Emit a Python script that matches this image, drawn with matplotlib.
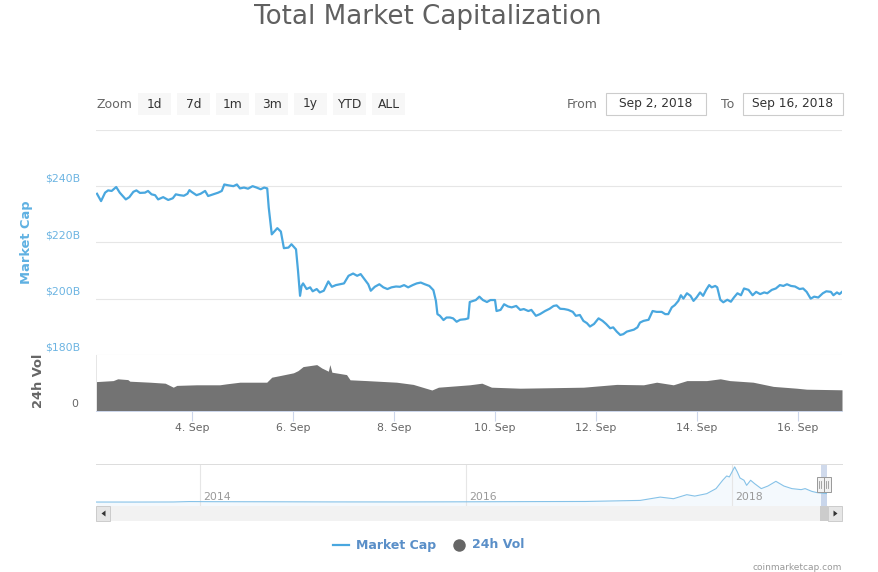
import matplotlib

matplotlib.use("Agg", force=True)

import matplotlib.pyplot as plt
from matplotlib.patches import Polygon, Rectangle

W, H = 879, 572  # output size in pixels (dpi 100)
PT = 0.72  # pixels -> points

PALETTE = {
    "cap": "#49a7df",
    "cap_label": "#6cb4e2",
    "vol": "#737373",
    "grid": "#e6e6e6",
    "axis": "#ccd6eb",
    "text": "#666666",
    "ink": "#333333",
    "button": "#f7f7f7",
    "legend": "#5a8fc8",
    "faint": "#999999",
    "mask": (102 / 255, 133 / 255, 194 / 255, 0.3),
}

# total market cap, $B, x = day of September 2018
cap_day = [
    2.12, 2.20, 2.28, 2.34, 2.41, 2.50, 2.57, 2.63, 2.69, 2.76, 2.84, 2.90, 2.97,
    3.07, 3.13, 3.20, 3.27, 3.33, 3.43, 3.53, 3.62, 3.68, 3.76, 3.84, 3.91, 3.95,
    3.99, 4.09, 4.17, 4.26, 4.32, 4.42, 4.52, 4.59, 4.64, 4.72, 4.82, 4.89, 4.95,
    5.03, 5.11, 5.20, 5.28, 5.36, 5.43, 5.49, 5.52, 5.58, 5.69, 5.76, 5.82, 5.91,
    5.97, 6.06, 6.10, 6.14, 6.17, 6.20, 6.27, 6.34, 6.39, 6.47, 6.53, 6.61, 6.70,
    6.77, 6.85, 6.93, 7.01, 7.10, 7.19, 7.27, 7.34, 7.43, 7.49, 7.54, 7.62, 7.71,
    7.79, 7.87, 7.95, 8.04, 8.12, 8.20, 8.28, 8.37, 8.45, 8.53, 8.61, 8.70, 8.78,
    8.83, 8.86, 8.91, 8.98, 9.04, 9.11, 9.17, 9.24, 9.31, 9.41, 9.47, 9.50, 9.57,
    9.62, 9.69, 9.76, 9.84, 9.91, 10.00, 10.03, 10.11, 10.18, 10.26, 10.33, 10.42,
    10.50, 10.57, 10.66, 10.72, 10.81, 10.89, 10.99, 11.08, 11.16, 11.22, 11.29,
    11.37, 11.45, 11.54, 11.60, 11.68, 11.75, 11.82, 11.88, 11.96, 12.05, 12.13,
    12.20, 12.28, 12.34, 12.41, 12.48, 12.54, 12.61, 12.67, 12.75, 12.82, 12.87,
    12.94, 13.04, 13.12, 13.20, 13.30, 13.37, 13.43, 13.50, 13.56, 13.63, 13.68,
    13.73, 13.80, 13.87, 13.93, 13.99, 14.06, 14.12, 14.18, 14.24, 14.29, 14.36,
    14.40, 14.46, 14.52, 14.60, 14.67, 14.73, 14.80, 14.87, 14.93, 15.02, 15.10,
    15.17, 15.25, 15.33, 15.39, 15.48, 15.56, 15.64, 15.71, 15.78, 15.86, 15.94,
    16.03, 16.10, 16.17, 16.25, 16.32, 16.40, 16.49, 16.56, 16.65, 16.70, 16.77,
    16.82, 16.87,
]
cap_value = [
    237.2, 234.6, 237.6, 238.4, 238.2, 239.6, 237.6, 236.4, 235.2, 236.0, 237.9, 238.4, 237.5,
    237.6, 238.2, 237.0, 236.7, 235.2, 236.0, 235.0, 235.6, 237.0, 236.7, 236.5, 237.2, 238.5,
    237.9, 236.7, 237.2, 238.2, 236.4, 237.0, 237.6, 238.2, 240.5, 240.2, 239.9, 240.5, 239.1,
    239.4, 239.0, 239.9, 239.4, 238.8, 239.4, 239.1, 232.3, 222.8, 225.0, 223.8, 217.9, 218.1,
    219.3, 217.5, 209.8, 201.0, 204.5, 205.4, 203.4, 204.0, 202.6, 203.4, 202.2, 202.8, 206.1,
    204.2, 204.8, 205.1, 205.4, 208.1, 208.9, 208.1, 208.7, 206.5, 205.1, 202.8, 204.2, 205.1,
    204.0, 203.4, 204.0, 204.3, 204.2, 204.8, 204.0, 204.8, 205.4, 205.7, 205.1, 204.5, 203.0,
    199.2, 194.5, 193.9, 192.4, 193.3, 193.3, 193.0, 191.8, 192.5, 192.7, 193.0, 198.8, 199.2,
    199.5, 200.7, 199.5, 198.8, 199.5, 199.5, 195.6, 196.0, 198.0, 197.2, 196.9, 197.4,
    196.0, 196.3, 195.6, 196.0, 193.9, 194.5, 195.6, 196.4, 197.4, 197.6, 196.4,
    196.3, 196.0, 195.3, 193.9, 194.2, 192.1, 191.3, 190.1, 191.0, 193.0, 192.1,
    191.0, 189.5, 189.8, 188.3, 187.1, 187.4, 188.3, 188.6, 189.0, 189.8, 191.5,
    192.1, 192.5, 195.6, 195.3, 195.3, 194.5, 194.5, 196.9, 197.7, 199.2, 201.2,
    200.0, 201.9, 201.0, 199.2, 200.4, 202.2, 201.0, 203.1, 204.8, 204.0, 204.5,
    204.0, 199.6, 198.7, 199.6, 198.9, 200.4, 201.9, 201.2, 203.6, 203.1, 201.2,
    202.4, 201.6, 202.2, 201.9, 203.1, 203.6, 204.8, 204.5, 205.1, 204.5, 204.3,
    203.4, 203.6, 202.4, 200.0, 200.7, 200.4, 201.9, 202.6, 202.4, 201.2, 202.2,
    201.6, 202.4,
]

# 24h volume, $B
vol_day = [
    2.11, 2.44, 2.53, 2.73, 2.77, 3.17, 3.47, 3.63, 3.70, 4.09, 4.55, 4.69, 4.95,
    5.48, 5.58, 5.74, 6.01, 6.10, 6.20, 6.47, 6.57, 6.70, 6.73, 6.77, 7.06, 7.13,
    7.46, 8.05, 8.38, 8.75, 8.88, 9.50, 9.74, 9.93, 10.50, 11.75, 12.41, 12.94,
    13.20, 13.53, 13.80, 14.19, 14.46, 14.65, 15.11, 15.51, 15.97, 16.17, 16.87,
]
vol_value = [
    14.7, 15.2, 16.1, 15.7, 14.9, 14.4, 13.9, 11.9, 12.8, 13.1, 13.1, 13.6, 14.4,
    14.4, 16.9, 17.7, 19.1, 20.2, 22.2, 23.2, 21.5, 19.9, 23.2, 19.4, 18.2, 15.6,
    15.2, 14.4, 13.3, 10.5, 11.9, 13.1, 13.9, 11.9, 11.4, 11.9, 13.3, 13.1,
    14.4, 13.1, 15.2, 15.2, 16.1, 15.2, 14.4, 12.3, 11.4, 10.9, 10.6,
]

# navigator: full history of total market cap, $B, x = year
nav_year = [
    2013.22, 2013.50, 2013.80, 2013.92, 2014.10, 2014.50, 2015.00, 2015.50, 2016.00,
    2016.50, 2016.90, 2017.31, 2017.46, 2017.56, 2017.66, 2017.72, 2017.81, 2017.88,
    2017.93, 2017.96, 2017.98, 2018.02, 2018.04, 2018.06, 2018.09, 2018.11, 2018.14,
    2018.17, 2018.22, 2018.27, 2018.33, 2018.39, 2018.45, 2018.52, 2018.55, 2018.60,
    2018.64, 2018.71,
]
nav_value = [
    1.5, 1.2, 3, 13, 10, 8, 4.5, 4, 7,
    12, 15, 40, 118, 80, 175, 142, 199, 318,
    515, 616, 593, 830, 711, 569, 515, 395, 515,
    435, 318, 379, 490, 379, 318, 294, 318, 253,
    223, 202,
]

day_ticks = [4, 6, 8, 10, 12, 14, 16]
day_tick_labels = [f"{d}. Sep" for d in day_ticks]
cap_ticks = [180, 200, 220, 240, 260]
cap_tick_labels = ["$180B", "$200B", "$220B", "$240B", ""]
year_ticks = [2014, 2016, 2018]
zoom_buttons = ["1d", "7d", "1m", "3m", "1y", "YTD", "ALL"]
range_from = "Sep 2, 2018"
range_to = "Sep 16, 2018"
day_range = (2.10, 16.87)
nav_range = (2013.218, 2018.827)


def add_px_axes(fig, left, top, right, bottom, **kwargs):
    """Axes placed by pixel box (origin top-left)."""
    return fig.add_axes(
        [left / W, 1 - bottom / H, (right - left) / W, (bottom - top) / H], **kwargs
    )


def sep_to_year(day):
    # Sep 1 2018 is day 244 of the year
    return 2018 + (243 + day) / 365.0


plt.rcParams.update({"font.family": ["DejaVu Sans"], "axes.linewidth": 0.72})
fig = plt.figure(figsize=(W / 100, H / 100), dpi=100, facecolor="white")

# ---- market cap pane
ax = add_px_axes(fig, 96, 129.5, 842, 355)
ax.plot(cap_day, cap_value, color=PALETTE["cap"], lw=1.6, solid_joinstyle="round", zorder=3)
ax.set_xlim(*day_range)
ax.set_ylim(180, 260)
ax.set_yticks(cap_ticks)
ax.set_xticks(day_ticks)
ax.grid(axis="y", color=PALETTE["grid"], lw=0.8, zorder=0)
ax.tick_params(length=0, labelleft=False, labelbottom=False)
for s in ax.spines.values():
    s.set_visible(False)
for v, lab in zip(cap_ticks, cap_tick_labels):
    ax.annotate(lab, xy=(0, v), xycoords=ax.get_yaxis_transform(), xytext=(-16 * PT, 1.5),
                textcoords="offset points", ha="right", va="bottom", fontsize=7.8,
                color=PALETTE["cap_label"])
fig.text(27 / W, 1 - 242 / H, "Market Cap", rotation=90, ha="center", va="center",
         fontsize=9.4, fontweight="bold", color="#5fb1e2")

# ---- volume pane
axv = add_px_axes(fig, 96, 355, 842, 411)
axv.fill_between(vol_day, vol_value, 0, color=PALETTE["vol"], lw=0, zorder=2)
axv.set_xlim(*day_range)
axv.set_ylim(0, 28)
axv.set_yticks([])
axv.set_xticks(day_ticks)
axv.set_xticklabels(day_tick_labels)
axv.tick_params(axis="x", length=10 * PT, width=0.8, color=PALETTE["axis"], pad=1.5,
                labelsize=7.8, labelcolor=PALETTE["text"])
for name in ("top", "right"):
    axv.spines[name].set_visible(False)
axv.spines["bottom"].set_color(PALETTE["axis"])
axv.spines["left"].set_color(PALETTE["grid"])
axv.annotate("0", xy=(0, 0), xycoords=axv.get_yaxis_transform(), xytext=(-18 * PT, 1.5),
             textcoords="offset points", ha="right", va="bottom", fontsize=7.8,
             color=PALETTE["text"])
fig.text(38 / W, 1 - 381 / H, "24h Vol", rotation=90, ha="center", va="center",
         fontsize=9.4, fontweight="bold", color=PALETTE["text"])

# ---- navigator
axn = add_px_axes(fig, 96, 463.5, 842, 505.5)
axn.fill_between(nav_year, nav_value, -80, color=PALETTE["cap"], alpha=0.06, lw=0)
axn.plot(nav_year, nav_value, color="#86c2e8", lw=0.8)
axn.set_xlim(*nav_range)
axn.set_ylim(-80, 910)
axn.set_xticks(year_ticks)
axn.grid(axis="x", color=PALETTE["grid"], lw=0.8)
axn.tick_params(length=0, labelleft=False, labelbottom=False)
for name, s in axn.spines.items():
    s.set_visible(name == "top")
axn.spines["top"].set_color("#dddddd")
for yr in year_ticks:
    axn.annotate(str(yr), xy=(yr, 0.2), xycoords=axn.get_xaxis_transform(),
                 xytext=(3 * PT, 0), textcoords="offset points", ha="left", va="center",
                 fontsize=7.8, color=PALETTE["faint"])
axn.axvspan(sep_to_year(day_range[0]), sep_to_year(day_range[1]), color=PALETTE["mask"], lw=0)

# ---- overlay for the chart chrome, pixel coordinates
ov = add_px_axes(fig, 0, 0, W, H, facecolor="none")
ov.set_xlim(0, W)
ov.set_ylim(H, 0)
ov.axis("off")

ov.text(428, 17, "Total Market Capitalization", ha="center", va="center",
        fontsize=18.8, color="#606060")

ov.text(97, 104, "Zoom", ha="left", va="center", fontsize=9, color=PALETTE["text"])
for i, lab in enumerate(zoom_buttons):
    x0 = 138 + i * 39
    ov.add_patch(Rectangle((x0, 93), 33, 22, facecolor=PALETTE["button"], lw=0))
    ov.text(x0 + 16.5, 104, lab, ha="center", va="center", fontsize=8.8, color=PALETTE["ink"])

ov.text(598, 104, "From", ha="right", va="center", fontsize=9, color=PALETTE["text"])
ov.text(734, 104, "To", ha="right", va="center", fontsize=9, color=PALETTE["text"])
for x0, lab in ((606, range_from), (743, range_to)):
    ov.add_patch(Rectangle((x0, 93), 100, 22, facecolor="white", edgecolor="#cccccc", lw=0.8))
    ov.text(x0 + 50, 104, lab, ha="center", va="center", fontsize=8.8, color=PALETTE["ink"])

# navigator handles
for hx in (817, 824):
    ov.add_patch(Rectangle((hx, 477), 7, 15, facecolor="#f2f2f2", edgecolor="#999999", lw=0.7))
    for lx in (hx + 2.5, hx + 4.5):
        ov.plot([lx, lx], [481, 488], color="#999999", lw=0.6)

# scrollbar
ov.add_patch(Rectangle((96, 506), 746, 15, facecolor="#f2f2f2", lw=0))
ov.add_patch(Rectangle((820, 506), 8, 15, facecolor="#cccccc", lw=0))
for bx, tri in ((96, [(105.5, 510.5), (105.5, 516.5), (101.5, 513.5)]),
                (828, [(833.5, 510.5), (833.5, 516.5), (837.5, 513.5)])):
    ov.add_patch(Rectangle((bx, 506), 14, 15, facecolor="#e6e6e6", edgecolor="#cccccc", lw=0.7))
    ov.add_patch(Polygon(tri, closed=True, facecolor=PALETTE["ink"], lw=0))

# legend
ov.plot([333, 349], [545, 545], color=PALETTE["cap"], lw=1.6)
ov.text(356, 545, "Market Cap", ha="left", va="center", fontsize=9, fontweight="bold",
        color=PALETTE["legend"])
ov.plot([459], [545], marker="o", ms=9, color="#666666", mec="none")
ov.text(472, 545, "24h Vol", ha="left", va="center", fontsize=9, fontweight="bold",
        color=PALETTE["legend"])

ov.text(842, 568, "coinmarketcap.com", ha="right", va="center", fontsize=6.5,
        color=PALETTE["faint"])

fig.savefig("out.png", dpi=100, facecolor="white")
